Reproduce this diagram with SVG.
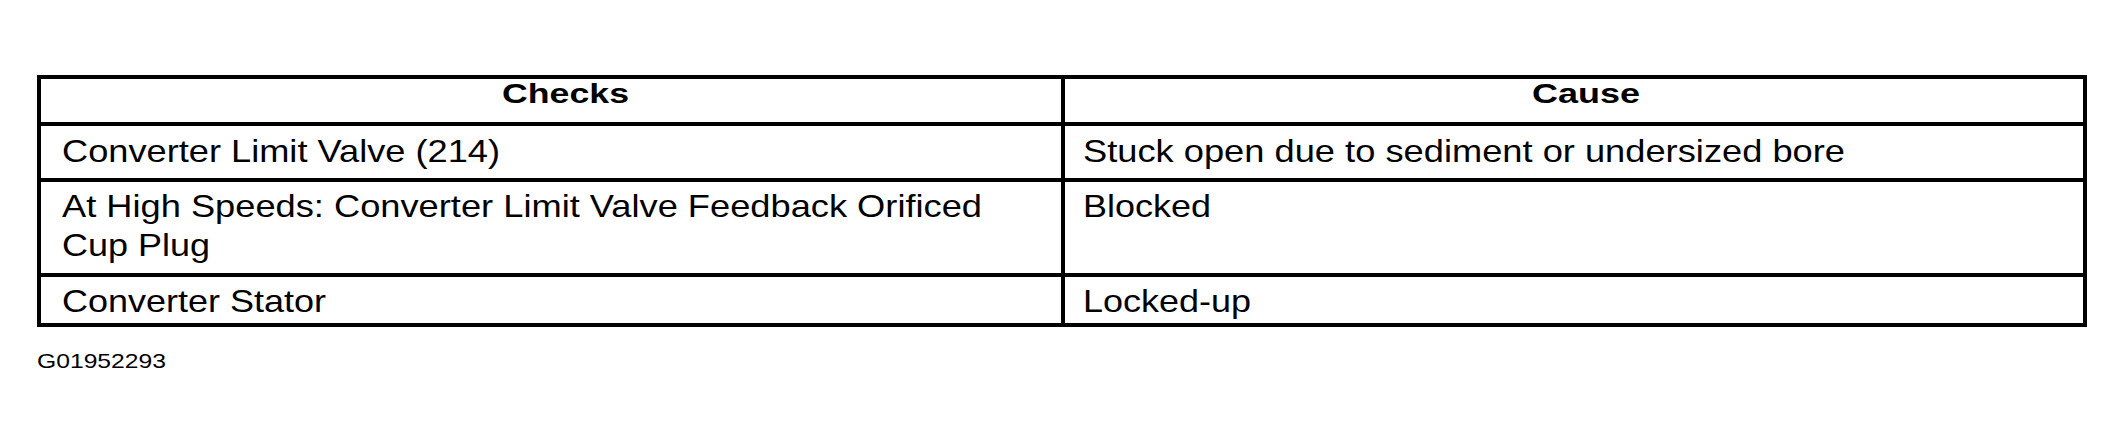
<svg xmlns="http://www.w3.org/2000/svg" width="2124" height="447" viewBox="0 0 2124 447">
<style>
.t{font-family:"Liberation Sans",Arial,sans-serif;font-size:32px;fill:#000}
.h{font-family:"Liberation Sans",Arial,sans-serif;font-size:27px;font-weight:bold;fill:#000}
.g{font-family:"Liberation Sans",Arial,sans-serif;font-size:21px;fill:#000}
.ln{stroke:#000;stroke-width:4;fill:none}
</style>
<rect width="2124" height="447" fill="#fff"/>
<g id="table">
<rect class="ln" x="39" y="77" width="2046" height="248"/>
<line class="ln" x1="39" y1="124" x2="2085" y2="124"/>
<line class="ln" x1="39" y1="180" x2="2085" y2="180"/>
<line class="ln" x1="39" y1="275" x2="2085" y2="275"/>
<line class="ln" x1="1063" y1="77" x2="1063" y2="325"/>
</g>
<g id="header">
<text class="h" x="502" y="103" textLength="127" lengthAdjust="spacingAndGlyphs">Checks</text>
<text class="h" x="1532" y="103" textLength="108" lengthAdjust="spacingAndGlyphs">Cause</text>
</g>
<g id="row1">
<text class="t" x="62" y="162" textLength="438" lengthAdjust="spacingAndGlyphs">Converter Limit Valve (214)</text>
<text class="t" x="1083" y="162" textLength="762" lengthAdjust="spacingAndGlyphs">Stuck open due to sediment or undersized bore</text>
</g>
<g id="row2">
<text class="t" x="62" y="217" textLength="920" lengthAdjust="spacingAndGlyphs">At High Speeds: Converter Limit Valve Feedback Orificed</text>
<text class="t" x="62" y="256" textLength="148" lengthAdjust="spacingAndGlyphs">Cup Plug</text>
<text class="t" x="1083" y="217" textLength="128" lengthAdjust="spacingAndGlyphs">Blocked</text>
</g>
<g id="row3">
<text class="t" x="62" y="312" textLength="264" lengthAdjust="spacingAndGlyphs">Converter Stator</text>
<text class="t" x="1083" y="312" textLength="168" lengthAdjust="spacingAndGlyphs">Locked-up</text>
</g>
<g id="caption">
<text class="g" x="37" y="368" textLength="129" lengthAdjust="spacingAndGlyphs">G01952293</text>
</g>
</svg>
